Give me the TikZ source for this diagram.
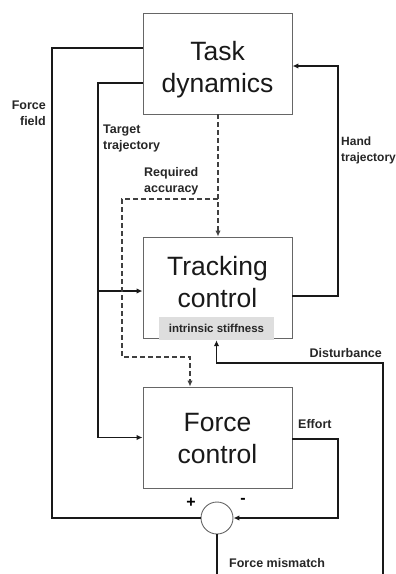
\documentclass[tikz,border=0pt]{standalone}
\usepackage{fontspec}
\setmainfont{Liberation Sans}
\usetikzlibrary{arrows.meta}
\begin{document}
\begin{tikzpicture}[x=1pt,y=-1pt,
  box/.style={draw=black!60, line width=0.9pt, minimum width=149pt, minimum height=101pt, inner sep=0pt},
  boxtext/.style={font=\fontsize{26.5}{32}\selectfont, align=center, inner sep=0pt, anchor=north, text=black!90},
  lbl/.style={font=\fontsize{12.5}{16}\selectfont\bfseries, inner sep=0pt, text=black!85},
  stiffbox/.style={fill=black!13, minimum width=115pt, minimum height=23pt, inner sep=0pt,
     font=\fontsize{11.5}{12}\selectfont\bfseries, text=black!85},
  sumnode/.style={circle, draw=black!60, line width=0.9pt, minimum size=32pt, inner sep=0pt},
  wire/.style={line width=1.8pt, draw=black!90},
  dashwire/.style={line width=1.4pt, draw=black!75, dash pattern=on 5pt off 3pt},
  arr/.style={-{Latex[length=6pt,width=5.5pt]}},
]
\useasboundingbox (0,0) rectangle (396,574);

% boxes
\node[box] (task) at (217.5,63.5) {};
\node[boxtext] (tasktext) at (217.5,41) {Task\\dynamics};
\node[box] (track) at (217.5,287.5) {};
\node[boxtext] (tracktext) at (217.5,256) {Tracking\\control};
\node[stiffbox] (stiff) at (216.5,328.5) {intrinsic stiffness};
\node[box] (force) at (217.5,437.5) {};
\node[boxtext] (forcetext) at (217.5,413) {Force\\control};
\node[sumnode] (sum) at (217,518) {};

% bend points
\coordinate (ffbend) at (52,48);
\coordinate (ttbend) at (98,83);
\coordinate (ttbranch) at (98,291);
\coordinate (rabranch) at (218,199);
\coordinate (raleft) at (122,357);
\coordinate (htbend) at (338,66);
\coordinate (dbottom) at (383,580);
\coordinate (dbend) at (383,363);
\coordinate (efbend) at (338,518);
\coordinate (fmend) at (217,580);

% force field
\draw[wire] (task.west |- ffbend) -- (ffbend) |- (sum.west);
% target trajectory
\draw[wire,arr] (task.west |- ttbend) -- (ttbend) |- (force.west);
\draw[wire,arr] (ttbranch) -- (track.west |- ttbranch);
% required accuracy
\draw[dashwire,arr] (task.south -| rabranch) -- (track.north -| rabranch);
\draw[dashwire,arr] (rabranch) -| (raleft) -| (force.north -| 190,0);
% hand trajectory
\draw[wire,arr] (track.east |- 0,296) -| (htbend) -- (task.east |- htbend);
% disturbance
\draw[wire,arr] (dbottom) -- (dbend) -| (stiff.south);
% effort
\draw[wire,arr] (force.east |- 0,439) -| (efbend) -- (sum.east);
% force mismatch
\draw[wire] (sum.south) -- (fmend);

% labels
\node[lbl, align=right, anchor=north east] (fflbl) at (46,101) {Force\\field};
\node[lbl, align=left, anchor=north west] (ttlbl) at (103,125) {Target\\trajectory};
\node[lbl, align=left, anchor=north west] (ralbl) at (144,167) {Required\\accuracy};
\node[lbl, align=left, anchor=north west, font=\fontsize{12}{16}\selectfont\bfseries] (htlbl) at (341,137) {Hand\\trajectory};
\node[lbl, anchor=base east] (dlbl) at (382,357) {Disturbance};
\node[lbl, anchor=base west] (elbl) at (298,428) {Effort};
\node[lbl, anchor=base west] (fmlbl) at (229,567) {Force mismatch};
\node[font=\fontsize{16}{16}\selectfont\bfseries, inner sep=0pt] (plus) at (191,503) {+};
\node[font=\fontsize{16}{16}\selectfont\bfseries, inner sep=0pt] (minus) at (243,501) {-};
\end{tikzpicture}
\end{document}
